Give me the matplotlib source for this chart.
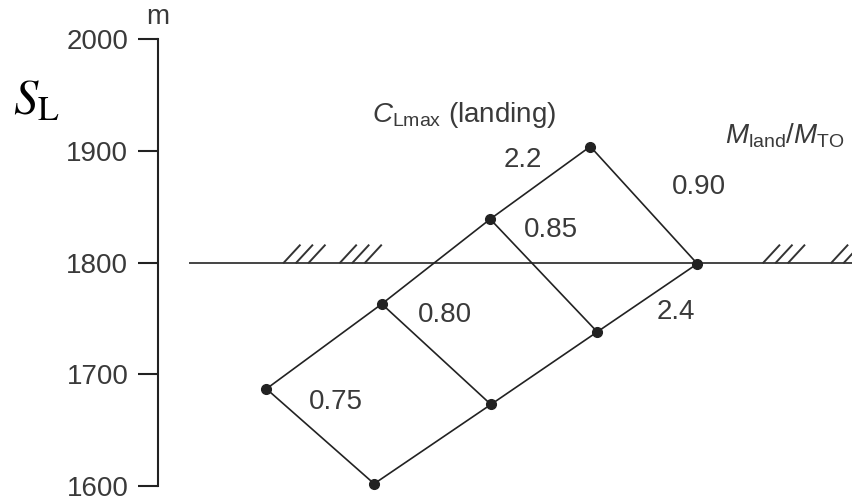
import matplotlib.pyplot as plt

plt.rcParams["font.family"] = ["Liberation Sans", "DejaVu Sans"]
plt.rcParams["mathtext.fontset"] = "custom"
plt.rcParams["mathtext.rm"] = "Liberation Sans"
plt.rcParams["mathtext.it"] = "Liberation Sans:italic"

ink = "#3a3a3a"

# carpet nodes: C_Lmax = 2.2 and 2.4, mass ratio 0.75 ... 0.90
ratios = ["0.75", "0.80", "0.85", "0.90"]
x_22 = [15.6, 32.2, 47.8, 62.2]
s_22 = [1687, 1763, 1839, 1904]
x_24 = [31.1, 47.9, 63.2, 77.6]
s_24 = [1602, 1673, 1738, 1799]

# landing field length limit
s_limit = 1800
limit_x = [4.6, 100]
hatch_x = [18.1, 19.9, 21.7, 26.2, 28.0, 29.8, 87.1, 88.9, 90.7, 96.9, 98.7, 100.5]

fig = plt.figure(figsize=(8.53, 4.98), dpi=100)
ax = fig.add_axes([158 / 853, 12 / 498, 1 - 158 / 853, 446.7 / 498])
ax.set_xlim(0, 100)
ax.set_ylim(1600, 2000)

ax.plot(x_22, s_22, color="#222222", lw=1.2, marker="o", ms=7, zorder=3, clip_on=False)
ax.plot(x_24, s_24, color="#222222", lw=1.2, marker="o", ms=7, zorder=3, clip_on=False)
for i in range(len(ratios)):
    ax.plot([x_22[i], x_24[i]], [s_22[i], s_24[i]], color="#222222", lw=1.2, zorder=2,
            clip_on=False)

ax.plot(limit_x, [s_limit, s_limit], color="#444444", lw=1.4, zorder=1)
for hx in hatch_x:
    ax.plot([hx, hx + 2.3], [s_limit, s_limit + 15.5], color="#333333", lw=1.4,
            clip_on=False, zorder=1)

# curve labels
txt = dict(fontsize=20, color=ink, ha="center", va="center")
ax.text(25.6, 1675, ratios[0], **txt)
ax.text(41.3, 1753, ratios[1], **txt)
ax.text(56.5, 1829, ratios[2], **txt)
ax.text(77.8, 1868, ratios[3], **txt)
ax.text(52.5, 1892, "2.2", **txt)
ax.text(74.5, 1756, "2.4", **txt)

ax.text(30.8, 1926, r"$C_{\mathrm{Lmax}}$ (landing)", fontsize=20, color=ink,
        ha="left", va="baseline")
ax.text(81.6, 1907, r"$M_{\mathrm{land}}/M_{\mathrm{TO}}$", fontsize=20, color=ink,
        ha="left", va="baseline", clip_on=False)

# axis styling
for side in ["top", "right", "bottom"]:
    ax.spines[side].set_visible(False)
ax.spines["left"].set_linewidth(1.5)
ax.spines["left"].set_color("#222222")
ax.set_xticks([])
ax.set_yticks([1600, 1700, 1800, 1900, 2000])
ax.tick_params(axis="y", length=14.4, width=1.5, color="#222222", pad=7,
               labelsize=20, labelcolor=ink)

fig.text(158 / 853, 1 - 17.5 / 498, "m", fontsize=20, color=ink, ha="center", va="center")
fig.text(36 / 853, 1 - 102 / 498, r"$S_{\mathrm{L}}$", fontsize=35, color="black",
         ha="center", va="center", math_fontfamily="stix")

fig.savefig("out.png", dpi=100)
